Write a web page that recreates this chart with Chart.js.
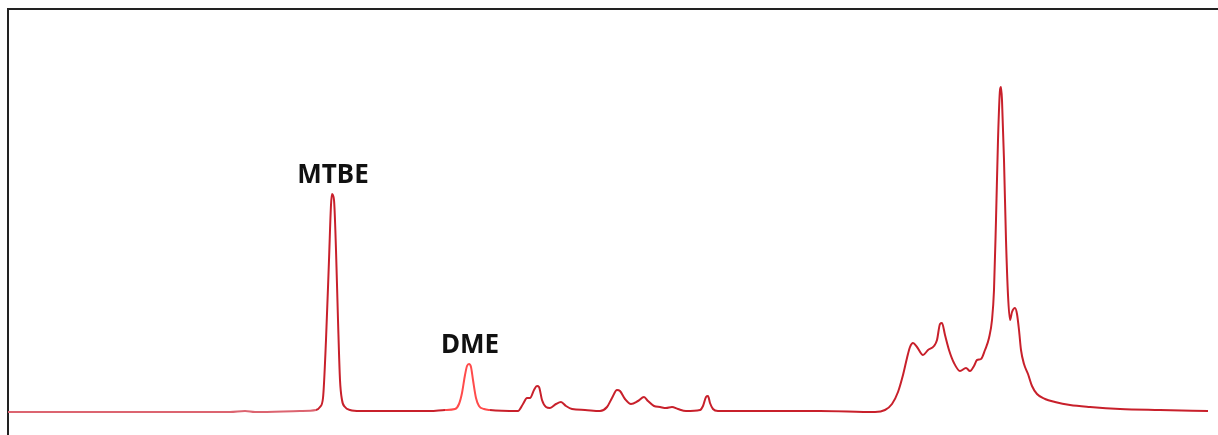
<!DOCTYPE html>
<html>
<head>
<meta charset="utf-8">
<title>Chromatogram</title>
<script src="https://cdn.jsdelivr.net/npm/chart.js@4/dist/chart.umd.min.js"></script>
<style>
  html, body { margin: 0; padding: 0; background: #fff; overflow: hidden; }
  #chromatogram { display: block; }
</style>
</head>
<body>
<canvas id="chromatogram" width="1218" height="435"></canvas>
<script>
// retention (arbitrary units) and detector signal
const retention = [
  0, 92, 162, 222, 237, 247, 292, 308, 312, 315, 318, 321, 323, 324, 326, 328, 330, 332, 334, 337,
  342, 352, 392, 422, 437, 447, 451, 454, 457, 459, 461, 463, 465, 468, 471, 476, 482,
  510, 515, 519, 522, 526, 529, 531, 534, 538, 542, 548, 553, 558, 564, 577,
  592, 599, 604, 609, 612, 617, 623, 630, 636, 640, 646, 652, 658, 664, 670, 678,
  692, 695, 698, 700, 702, 705, 710, 752, 812, 867,
  877, 884, 890, 895, 899, 902, 905, 909, 915, 920, 926, 929, 932, 934, 937, 941, 946, 952, 958, 962,
  966, 969, 973, 977, 981, 984, 986, 988, 990, 992, 993, 994, 996, 998, 1000, 1002, 1004, 1007, 1009,
  1011, 1013, 1016, 1020, 1024, 1029, 1037, 1047, 1062, 1082, 1112, 1152, 1200
];
const signal = [
  0, 0, 0, 0, 1, 0, 1, 2, 5, 14, 72, 152, 207, 218, 212, 162, 92, 32, 12, 5,
  2, 1, 1, 1, 2, 3, 8, 19, 37, 46, 48, 45, 32, 14, 6, 3, 2,
  1, 8, 14, 14, 22, 26, 25, 12, 5, 4, 8, 10, 6, 3, 2,
  1, 5, 14, 22, 21, 13, 8, 11, 15, 11, 6, 5, 4, 5, 3, 1,
  2, 6, 15, 16, 9, 3, 1, 1, 1, 0,
  2, 8, 20, 37, 54, 65, 69, 65, 57, 62, 66, 72, 88, 89, 77, 62, 49, 41, 44, 41,
  46, 52, 53, 62, 74, 92, 122, 192, 272, 322, 325, 312, 252, 172, 117, 92, 100, 104, 98,
  82, 62, 48, 38, 26, 18, 13, 10, 7, 5, 3, 2, 1
];

const peakNames = ['MTBE', 'DME'];
const peakTimes = [324, 461];

const points = retention.map((t, i) => ({ x: t, y: signal[i] }));

// draw the compound names just above their peaks
const peakLabels = {
  id: 'peakLabels',
  afterDatasetsDraw(chart) {
    const { ctx, scales } = chart;
    ctx.save();
    ctx.font = 'bold 26px "Noto Sans", sans-serif';
    ctx.fillStyle = '#111';
    ctx.textAlign = 'center';
    ctx.textBaseline = 'alphabetic';
    peakNames.forEach((name, i) => {
      const idx = retention.indexOf(peakTimes[i]);
      const px = scales.x.getPixelForValue(peakTimes[i]);
      const py = scales.y.getPixelForValue(signal[idx]);
      ctx.fillText(name, px + 1, py - 11);
    });
    ctx.restore();
  }
};

const segColor = (c) => {
  const x = c.p0.parsed.x;
  if (x >= 437 && x < 482) return '#ff4b4b';
  if (x < 300) return '#dc6470';
  return '#c8202b';
};

new Chart(document.getElementById('chromatogram'), {
  type: 'line',
  data: {
    datasets: [{
      data: points,
      borderColor: '#c8202b',
      borderWidth: 2,
      pointRadius: 0,
      cubicInterpolationMode: 'monotone',
      fill: false,
      segment: { borderColor: segColor }
    }]
  },
  options: {
    responsive: false,
    animation: false,
    layout: { padding: { left: 0, top: 1, right: 0, bottom: 0 } },
    plugins: { legend: { display: false }, tooltip: { enabled: false } },
    scales: {
      x: {
        type: 'linear',
        position: 'top',
        min: 0,
        max: 1210,
        grid: { display: false },
        ticks: { display: false },
        border: { display: true, color: '#222', width: 2 }
      },
      y: {
        min: -23,
        max: 403,
        grid: { display: false },
        ticks: { display: false },
        border: { display: true, color: '#222', width: 2 }
      }
    }
  },
  plugins: [peakLabels]
});
</script>
</body>
</html>
